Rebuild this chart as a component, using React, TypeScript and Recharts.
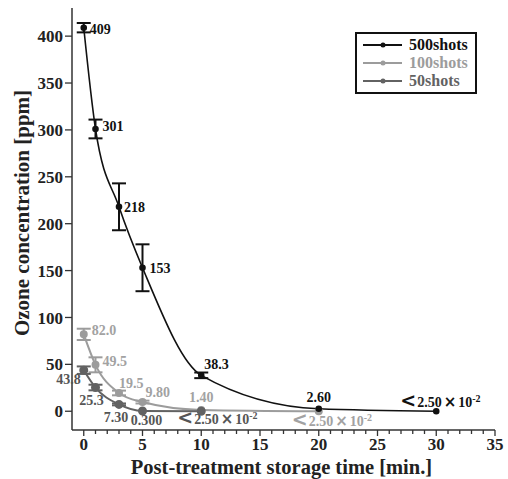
import React from 'react';
import { LineChart, Line, XAxis, YAxis, ErrorBar, LabelList, Legend } from 'recharts';

// ---- data ----
const times500 = [0, 1, 3, 5, 10, 20, 30];
const values500 = [409, 301, 218, 153, 38.3, 2.6, 0.025];
const errors500: (number | null)[] = [5, 10, 25, 25, 3, null, null];
const labels500 = ['409', '301', '218', '153', '38.3', '2.60', '<2.50e-2'];

const times100 = [0, 1, 3, 5, 10, 20];
const values100 = [82.0, 49.5, 19.5, 9.8, 1.4, 0.025];
const errors100: (number | null)[] = [6, 8, 2.5, 1.5, null, null];
const labels100 = ['82.0', '49.5', '19.5', '9.80', '1.40', '<2.50e-2'];

const times50 = [0, 1, 3, 5, 10];
const values50 = [43.8, 25.3, 7.3, 0.3, 0.025];
const errors50: (number | null)[] = [4, 3, 1, null, null];
const labels50 = ['43.8', '25.3', '7.30', '0.300', '<2.50e-2'];

const xTicks = Array.from({ length: 36 }, (_, i) => i);
const yTicks = [0, 50, 100, 150, 200, 250, 300, 350, 400];

const seriesNames = ['500shots', '100shots', '50shots'];

// ---- styles ----
const FONT = '"Liberation Serif", "DejaVu Serif", serif';
const C500 = '#111111';
const C100 = '#9c9c9c';
const C50 = '#626262';
const colors = [C500, C100, C50];

// label placement per point: [dx, dy, anchor]
type Place = [number, number, 'start' | 'middle' | 'end'];
const place500: Place[] = [
  [6, 6, 'start'],
  [7, 2, 'start'],
  [5, 5, 'start'],
  [7, 5, 'start'],
  [3, -6, 'start'],
  [0, -7, 'middle'],
  [-36, -4, 'start'],
];
const place100: Place[] = [
  [8, 1, 'start'],
  [7, 1, 'start'],
  [0, -5, 'start'],
  [3, -5, 'start'],
  [0, -8, 'middle'],
  [-27, 15, 'start'],
];
const place50: Place[] = [
  [-3, 14, 'end'],
  [-4, 17, 'middle'],
  [-3, 18, 'middle'],
  [4, 14, 'middle'],
  [-24, 13, 'start'],
];

const build = (t: number[], v: number[], e: (number | null)[], l: string[]) =>
  t.map((x, i) => ({ t: x, v: v[i], e: e[i], label: l[i] }));

const data500 = build(times500, values500, errors500, labels500);
const data100 = build(times100, values100, errors100, labels100);
const data50 = build(times50, values50, errors50, labels50);

const makeLabel = (places: Place[], color: string) => (props: any) => {
  const { x, y, value, index } = props;
  const p = places[index];
  if (!p) return null;
  const [dx, dy, anchor] = p;
  const s = String(value);
  if (s.startsWith('<')) {
    return (
      <text x={x + dx} y={y + dy} fill={color} fontFamily={FONT} fontWeight="bold" fontSize={14} textAnchor="start">
        <tspan fontSize={19} fontFamily='"DejaVu Sans", sans-serif' fontWeight="bold">{'<'}</tspan>
        <tspan dx={1}>2.50</tspan>
        <tspan dx={2} fontSize={15} fontFamily='"DejaVu Sans", sans-serif'>{'×'}</tspan>
        <tspan dx={2}>10</tspan>
        <tspan dy={-5} fontSize={10}>-2</tspan>
      </text>
    );
  }
  return (
    <text x={x + dx} y={y + dy} fill={color} fontFamily={FONT} fontWeight="bold" fontSize={14} textAnchor={anchor}>
      {s}
    </text>
  );
};

const XTick = (props: any) => {
  const { x, y, payload } = props;
  const v = payload.value;
  const major = v % 5 === 0;
  return (
    <g>
      <line x1={x} x2={x} y1={y} y2={y + (major ? 6 : 4)} stroke="#333" strokeWidth={1.3} />
      {major && (
        <text x={x} y={y + 20} textAnchor="middle" fontFamily={FONT} fontWeight="bold" fontSize={17} fill="#222">
          {v}
        </text>
      )}
    </g>
  );
};

const LegendBox = () => (
  <div
    style={{
      border: '2px solid #111',
      width: 118,
      height: 58,
      boxSizing: 'content-box',
      padding: 0,
      background: '#fff',
    }}
  >
    {seriesNames.map((n, i) => (
      <div key={n} style={{ display: 'flex', alignItems: 'center', height: 18, marginTop: i === 0 ? 2 : 0 }}>
        <svg width={52} height={18}>
          <line x1={6} x2={45} y1={9} y2={9} stroke={colors[i]} strokeWidth={2} />
          <circle cx={26} cy={9} r={2.5} fill={colors[i]} />
        </svg>
        <span style={{ fontFamily: FONT, fontWeight: 'bold', fontSize: 16, color: colors[i], lineHeight: '18px' }}>{n}</span>
      </div>
    ))}
  </div>
);

export default function App() {
  return (
    <div style={{ position: 'absolute', left: 0, top: 0, background: '#fff' }}>
      <LineChart width={508} height={479} margin={{ top: 8, right: 13, left: 10, bottom: 19 }}>
        <XAxis
          xAxisId="b"
          dataKey="t"
          type="number"
          domain={[-1, 35]}
          ticks={xTicks}
          interval={0}
          allowDataOverflow
          height={30}
          tickSize={0}
          tickMargin={0}
          tickLine={false}
          tick={<XTick />}
          axisLine={{ stroke: '#333', strokeWidth: 1.5 }}
          label={{
            content: (p: any) => {
              const vb = p.viewBox;
              return (
                <text x={vb.x + vb.width / 2 - 2} y={vb.y + 44} textAnchor="middle" fontFamily={FONT} fontWeight="bold" fontSize={20.5} fill="#222">
                  Post-treatment storage time [min.]
                </text>
              );
            },
          }}
        />
        <XAxis xAxisId="t" orientation="top" type="number" domain={[-1, 35]} height={0} tick={false} tickLine={false} axisLine={{ stroke: '#333', strokeWidth: 1.5 }} />
        <YAxis
          yAxisId="l"
          type="number"
          domain={[-20, 430]}
          ticks={yTicks}
          interval={0}
          allowDataOverflow
          width={62}
          tickSize={7}
          tickMargin={2}
          tickLine={{ stroke: '#333', strokeWidth: 1.3 }}
          axisLine={{ stroke: '#333', strokeWidth: 1.5 }}
          tick={{ fontFamily: FONT, fontWeight: 'bold', fontSize: 17, fill: '#222' }}
          label={{
            content: () => (
              <text
                x={22}
                y={213}
                transform="rotate(-90 22 213)"
                textAnchor="middle"
                dominantBaseline="central"
                fontFamily={FONT}
                fontWeight="bold"
                fontSize={21}
                fill="#222"
              >
                Ozone concentration [ppm]
              </text>
            ),
          }}
        />
        <YAxis yAxisId="r" orientation="right" type="number" domain={[-20, 430]} width={0} tick={false} tickLine={false} axisLine={{ stroke: '#333', strokeWidth: 1.5 }} />
        <Legend
          layout="vertical"
          align="center"
          verticalAlign="middle"
          content={<LegendBox />}
          wrapperStyle={{ left: 355, top: 32, width: 122, height: 62 }}
        />
        <Line
          xAxisId="b"
          yAxisId="l"
          data={data100}
          dataKey="v"
          type="monotone"
          stroke={C100}
          strokeWidth={2}
          dot={{ r: 3, fill: C100, stroke: C100 }}
          isAnimationActive={false}
          name="100shots"
        >
          <ErrorBar dataKey="e" width={7} strokeWidth={2} stroke={C100} direction="y" />
          <LabelList dataKey="label" content={makeLabel(place100, '#a2a2a2')} />
        </Line>
        <Line
          xAxisId="b"
          yAxisId="l"
          data={data50}
          dataKey="v"
          type="monotone"
          stroke={C50}
          strokeWidth={2}
          dot={{ r: 3.5, fill: C50, stroke: C50 }}
          isAnimationActive={false}
          name="50shots"
        >
          <ErrorBar dataKey="e" width={7} strokeWidth={2} stroke={C50} direction="y" />
          <LabelList dataKey="label" content={makeLabel(place50, '#555555')} />
        </Line>
        <Line
          xAxisId="b"
          yAxisId="l"
          data={data500}
          dataKey="v"
          type="monotone"
          stroke={C500}
          strokeWidth={1.6}
          dot={{ r: 2.5, fill: C500, stroke: C500 }}
          isAnimationActive={false}
          name="500shots"
        >
          <ErrorBar dataKey="e" width={7} strokeWidth={2} stroke={C500} direction="y" />
          <LabelList dataKey="label" content={makeLabel(place500, C500)} />
        </Line>
      </LineChart>
    </div>
  );
}
